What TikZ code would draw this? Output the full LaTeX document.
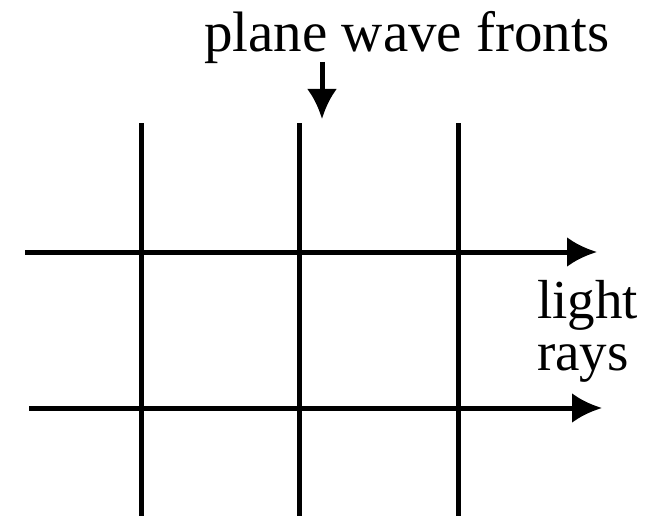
\documentclass[tikz,border=0pt]{standalone}
\usepackage{fontspec}
\setmainfont{Liberation Serif}
\usetikzlibrary{arrows.meta}
\begin{document}
\begin{tikzpicture}[x=1pt,y=-1pt,
  line/.style={line width=5pt, black},
  ray/.style={line width=5pt, black, -{Latex[length=30pt,width=30pt]}},
  lab/.style={font=\fontsize{57}{50}\selectfont, inner sep=0pt, anchor=base west},
  sidelab/.style={font=\fontsize{55}{50}\selectfont, inner sep=0pt, anchor=base west}]
\useasboundingbox (0,0) rectangle (652,516);
% labels
\node[lab] (fronts) at (204,52) {plane wave fronts};
\node[sidelab] (light) at (537,318) {light};
\node[sidelab] (rays) at (537,370) {rays};
% pointer
\coordinate (ps) at (322,62);
\coordinate (pe) at (322,119);
\draw[ray] (ps) -- (pe);
% wave fronts
\foreach \n/\x in {a/141,b/299,c/458}{
  \coordinate (\n t) at (\x,123);
  \coordinate (\n b) at (\x,516);
  \draw[line] (\n t) -- (\n b);
}
% light rays
\coordinate (r1s) at (25,252);
\coordinate (r1e) at (597,252);
\coordinate (r2s) at (29,408);
\coordinate (r2e) at (602,408);
\draw[ray] (r1s) -- (r1e);
\draw[ray] (r2s) -- (r2e);
\end{tikzpicture}
\end{document}
